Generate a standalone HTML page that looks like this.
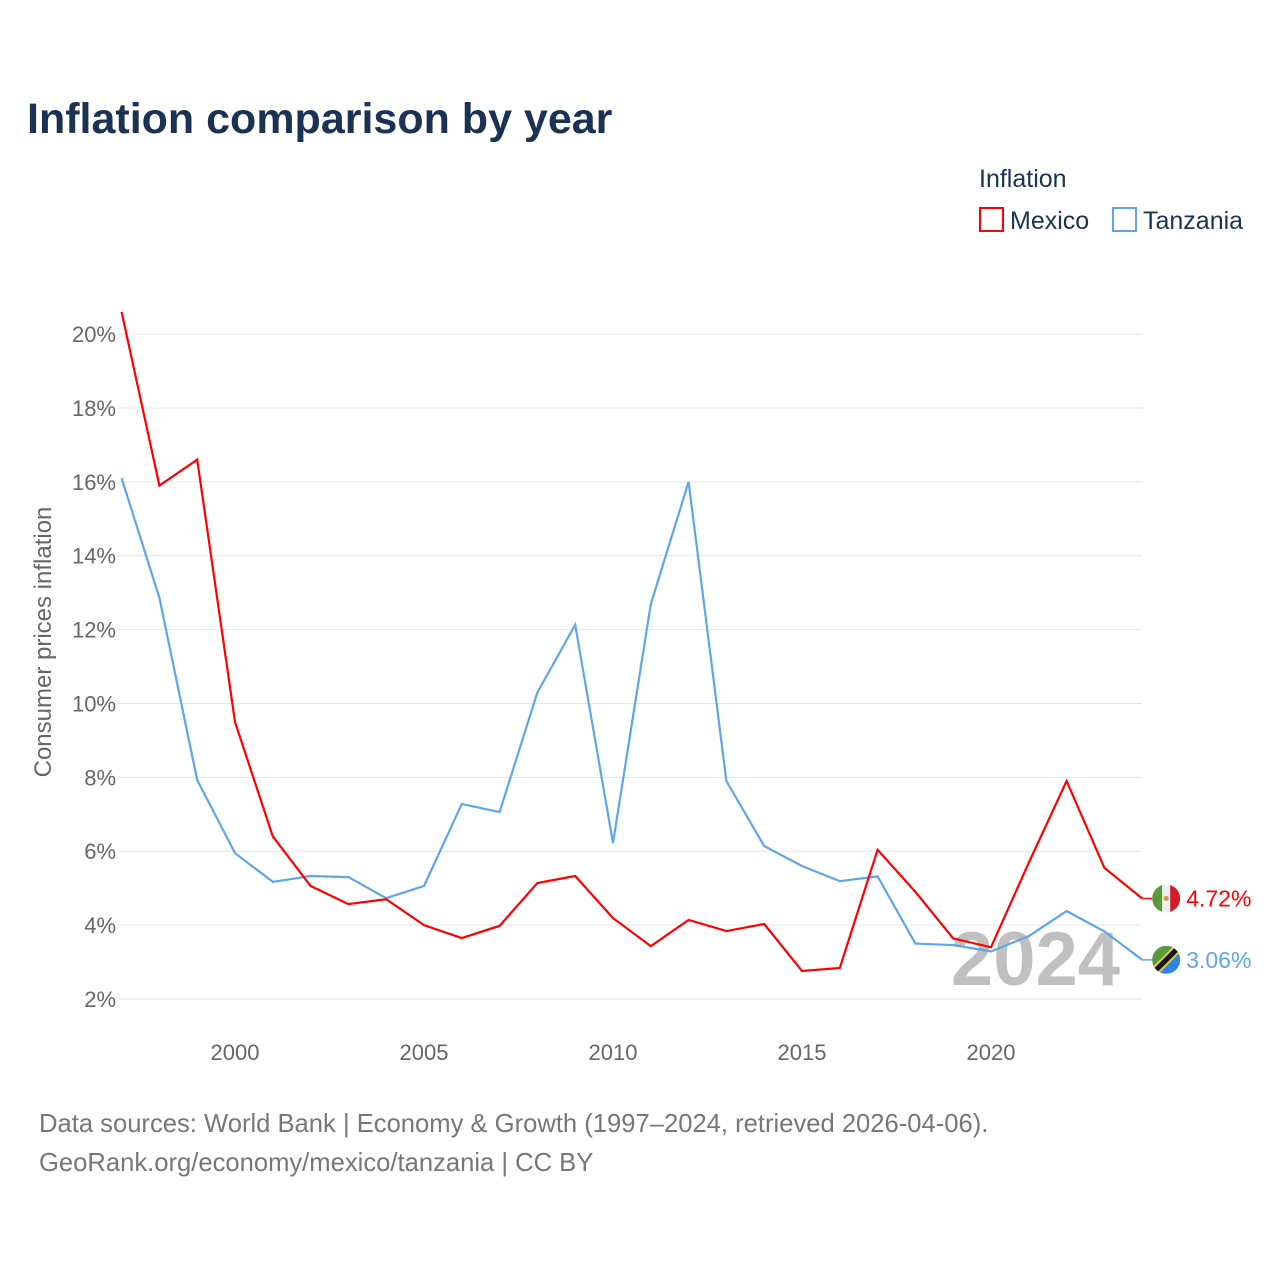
<!DOCTYPE html>
<html><head><meta charset="utf-8"><style>
body{margin:0;background:#fff;font-family:"Liberation Sans",sans-serif;}
svg text{font-family:"Liberation Sans",sans-serif;}
</style></head><body>
<svg id="chart" width="1280" height="1280" viewBox="0 0 1280 1280" xmlns="http://www.w3.org/2000/svg">
<defs>
<clipPath id="cm"><circle cx="0" cy="0" r="14"/></clipPath>
</defs>
<rect width="1280" height="1280" fill="#fff"/>
<text x="27" y="133" font-size="43" font-weight="bold" fill="#1b3252">Inflation comparison by year</text>
<text x="979" y="187" font-size="25" fill="#1b3252">Inflation</text>
<g><rect x="980" y="208" width="23" height="23" fill="none" stroke="#f00" stroke-width="2"/><text x="1010" y="229" font-size="25" fill="#1b3252">Mexico</text></g>
<g><rect x="1113" y="208" width="23" height="23" fill="none" stroke="#5ea5ea" stroke-width="2"/><text x="1143" y="229" font-size="25" fill="#1b3252">Tanzania</text></g>
<g id="grid"></g>
<text x="1120" y="985" font-size="76" font-weight="bold" fill="#c0c0c0" text-anchor="end">2024</text>
<g id="series"></g>
<text transform="translate(51,642) rotate(-90)" font-size="24" fill="#666" text-anchor="middle">Consumer prices inflation</text>
<text x="39" y="1132" font-size="25.6" fill="#777">Data sources: World Bank | Economy &amp; Growth (1997–2024, retrieved 2026-04-06).</text>
<text x="39" y="1171" font-size="25.6" fill="#777">GeoRank.org/economy/mexico/tanzania | CC BY</text>
</svg>
<script>
const years=[1997,1998,1999,2000,2001,2002,2003,2004,2005,2006,2007,2008,2009,2010,2011,2012,2013,2014,2015,2016,2017,2018,2019,2020,2021,2022,2023,2024];
const mexico=[20.6,15.9,16.6,9.5,6.4,5.06,4.57,4.7,4.0,3.65,3.98,5.14,5.33,4.19,3.43,4.14,3.84,4.03,2.76,2.84,6.04,4.9,3.64,3.4,5.69,7.9,5.55,4.72];
const tanzania=[16.1,12.86,7.93,5.95,5.17,5.33,5.3,4.73,5.06,7.28,7.06,10.3,12.13,6.22,12.69,16.0,7.9,6.14,5.6,5.19,5.32,3.5,3.46,3.29,3.7,4.38,3.83,3.06];
const yTicks=[2,4,6,8,10,12,14,16,18,20];
const xTicks=[2000,2005,2010,2015,2020];
const NS="http://www.w3.org/2000/svg";
const xs=y=>121.6+(y-1997)*37.8;
const ys=v=>999-(v-2)*36.94;
const grid=document.getElementById('grid'),ser=document.getElementById('series');
function mk(tag,attrs,parent){const e=document.createElementNS(NS,tag);for(const k in attrs)e.setAttribute(k,attrs[k]);parent.appendChild(e);return e;}
yTicks.forEach(t=>{
 const l=mk('line',{x1:118,x2:1142,y1:ys(t),y2:ys(t),stroke:'#e6e6e6','stroke-width':1},grid);
 
 
 const tx=mk('text',{x:116,y:ys(t)+8,'font-size':22,fill:'#666','text-anchor':'end'},grid);
 tx.textContent=t+'%';
 
 
});
xTicks.forEach(t=>{
 const tx=mk('text',{x:xs(t),y:1060,'font-size':22,fill:'#666','text-anchor':'middle'},grid);
 tx.textContent=t;
 
 
});
function line(vals,color,name){
 const p=mk('polyline',{points:vals.map((v,i)=>xs(years[i])+','+ys(v)).join(' '),fill:'none',stroke:color,'stroke-width':2.2},ser);
 
 
}
line(tanzania,'#5ea5ea','tanzania-line');
line(mexico,'#f00','mexico-line');
function endLabel(vals,color,name,kind){
 const v=vals[vals.length-1],x=xs(years[years.length-1]),y=ys(v);
 mk('line',{x1:x,x2:x+10,y1:y,y2:y,stroke:color,'stroke-width':1.5},ser);
 const g=mk('g',{transform:'translate('+(x+24)+','+y+')','clip-path':'url(#cm)'},ser);
 
 
 if(kind==='mx'){
  mk('rect',{x:-14,y:-14,width:10,height:28,fill:'#5a9a3a'},g);
  mk('rect',{x:-4,y:-14,width:8,height:28,fill:'#eee'},g);
  mk('rect',{x:4,y:-14,width:10,height:28,fill:'#d21c2c'},g);
  mk('circle',{cx:0,cy:0,r:2.5,fill:'#c8963c'},g);
 }else{
  mk('rect',{x:-14,y:-14,width:28,height:28,fill:'#2f86e8'},g);
  mk('polygon',{points:'-14,-14 14,-14 -14,14',fill:'#5a9a3a'},g);
  mk('line',{x1:-16,y1:16,x2:16,y2:-16,stroke:'#f2c830','stroke-width':9},g);
  mk('line',{x1:-16,y1:16,x2:16,y2:-16,stroke:'#111','stroke-width':5},g);
 }
 const t=mk('text',{x:x+44,y:y+8,'font-size':23,fill:color},ser);
 t.textContent=v.toFixed(2)+'%';
 
 
}
endLabel(mexico,'#f00','mexico','mx');
endLabel(tanzania,'#5ea5ea','tanzania','tz');
</script>
</body></html>
